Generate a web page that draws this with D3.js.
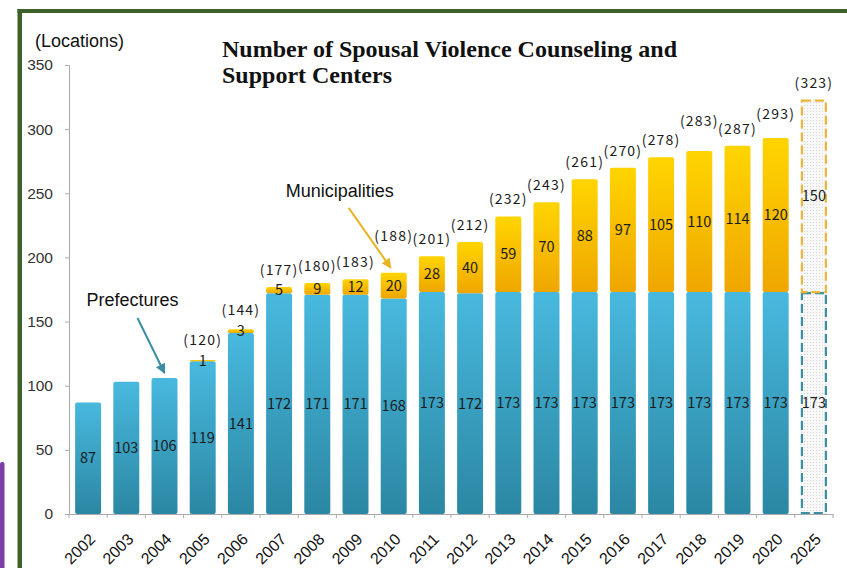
<!DOCTYPE html>
<html>
<head>
<meta charset="utf-8">
<script src="https://cdnjs.cloudflare.com/ajax/libs/d3/7.8.5/d3.min.js"></script>
<style>
	body { margin: 0; background: #fff; }
	svg { display: block; }
	.axis text { font-family: "Liberation Sans", Arial, sans-serif; fill: #333; }
	.axis path, .axis line { stroke: #aaa; }
</style>
</head>
<body>
<svg id="chart" width="847" height="568"></svg>
<script>
;(function(d3) {
	"use strict";

	// Data. 2025 is a target, drawn as a dashed outline.
	var years = ["2002", "2003", "2004", "2005", "2006", "2007", "2008", "2009", "2010", "2011",
		"2012", "2013", "2014", "2015", "2016", "2017", "2018", "2019", "2020", "2025"];
	var prefectures = [87, 103, 106, 119, 141, 172, 171, 171, 168, 173,
		172, 173, 173, 173, 173, 173, 173, 173, 173, 173];
	var municipalities = [0, 0, 0, 1, 3, 5, 9, 12, 20, 28,
		40, 59, 70, 88, 97, 105, 110, 114, 120, 150];
	var totals = [null, null, null, 120, 144, 177, 180, 183, 188, 201,
		212, 232, 243, 261, 270, 278, 283, 287, 293, 323];
	var yTicks = [0, 50, 100, 150, 200, 250, 300, 350];
	var targetYear = "2025";

	var svg = d3.select("#chart");

	// frame bits around the chart
	svg.append("rect").attr("x", 0).attr("y", 462).attr("width", 4.5).attr("height", 120)
		.attr("rx", 2).style("fill", "#7a3ea6");
	svg.append("rect").attr("x", 17.5).attr("y", 9).attr("width", 840).attr("height", 4)
		.style("fill", "#3e6128");
	svg.append("rect").attr("x", 17.5).attr("y", 9).attr("width", 4.5).attr("height", 570)
		.style("fill", "#3e6128");

	var defs = svg.append("defs");
	function vGrad(id, top, bottom) {
		var g = defs.append("linearGradient").attr("id", id)
			.attr("x1", 0).attr("y1", 0).attr("x2", 0).attr("y2", 1);
		g.append("stop").attr("offset", "0%").attr("stop-color", top);
		g.append("stop").attr("offset", "100%").attr("stop-color", bottom);
	}
	vGrad("blueGrad", "#48b9de", "#2b87a3");
	vGrad("yellowGrad", "#ffd500", "#efa600");

	var dots = defs.append("pattern").attr("id", "dots").attr("patternUnits", "userSpaceOnUse")
		.attr("width", 3).attr("height", 3);
	dots.append("rect").attr("width", 3).attr("height", 3).style("fill", "#f8f8f8");
	dots.append("rect").attr("width", 1).attr("height", 1).style("fill", "#d6d6d6");

	["tealHead", "goldHead"].forEach(function(id, i) {
		defs.append("marker").attr("id", id).attr("viewBox", "0 0 10 10")
			.attr("refX", 9).attr("refY", 5).attr("markerWidth", 5).attr("markerHeight", 5)
			.attr("orient", "auto")
			.append("path").attr("d", "M0,0 L10,5 L0,10 z")
			.style("fill", i === 0 ? "#3a8ea3" : "#e8b424");
	});

	var x = d3.scaleBand().domain(years).range([69, 833]).paddingInner(0.32).paddingOuter(0.16);
	var y = d3.scaleLinear().domain([0, 350]).range([514, 65]);

	var rows = years.map(function(yr, i) {
		return { year: yr, pref: prefectures[i], muni: municipalities[i], total: totals[i], target: yr === targetYear };
	});
	var actual = rows.filter(function(d) { return !d.target; });
	var target = rows.filter(function(d) { return d.target; });

	// axes
	var yAxis = svg.append("g").attr("class", "axis")
		.attr("transform", "translate(69,0)")
		.call(d3.axisLeft(y).tickValues(yTicks).tickSize(4).tickPadding(12));
	yAxis.selectAll("text").style("font-size", "15.5px");

	var xAxis = svg.append("g").attr("class", "axis")
		.attr("transform", "translate(0," + y(0) + ")")
		.call(d3.axisBottom(x).tickSize(0).tickSizeOuter(0));
	xAxis.selectAll("text")
		.style("font-size", "16px")
		.style("fill", "#111")
		.attr("text-anchor", "end")
		.attr("dy", null)
		.attr("transform", "translate(6,24) rotate(-45)");
	// tick marks sit between the bars
	xAxis.selectAll(".gap").data(d3.range(years.length + 1)).enter().append("line")
		.attr("class", "gap")
		.attr("x1", function(i) { return x.range()[0] + i * x.step(); })
		.attr("x2", function(i) { return x.range()[0] + i * x.step(); })
		.attr("y1", 0).attr("y2", 4);

	var bw = x.bandwidth();

	// stacked bars
	var bars = svg.append("g").attr("class", "bars");
	bars.selectAll(".pref").data(actual).enter().append("rect")
		.attr("x", function(d) { return x(d.year); })
		.attr("y", function(d) { return y(d.pref); })
		.attr("width", bw)
		.attr("height", function(d) { return y(0) - y(d.pref); })
		.attr("rx", 2)
		.style("fill", "url(#blueGrad)");
	bars.selectAll(".muni").data(actual.filter(function(d) { return d.muni > 0; })).enter().append("rect")
		.attr("x", function(d) { return x(d.year); })
		.attr("y", function(d) { return y(d.pref + d.muni); })
		.attr("width", bw)
		.attr("height", function(d) { return y(d.pref) - y(d.pref + d.muni); })
		.attr("rx", 2)
		.style("fill", "url(#yellowGrad)");

	// target bar: dotted fill, dashed outline per segment
	target.forEach(function(d) {
		var g = bars.append("g");
		g.append("rect")
			.attr("x", x(d.year)).attr("y", y(d.pref + d.muni))
			.attr("width", bw).attr("height", y(0) - y(d.pref + d.muni))
			.style("fill", "url(#dots)");
		g.append("rect")
			.attr("x", x(d.year) + 1).attr("y", y(d.pref) + 1)
			.attr("width", bw - 2).attr("height", y(0) - y(d.pref) - 2)
			.style("fill", "none").style("stroke", "#3c8fa0").style("stroke-width", 2.2)
			.style("stroke-dasharray", "9,4");
		g.append("rect")
			.attr("x", x(d.year) + 1).attr("y", y(d.pref + d.muni) + 1)
			.attr("width", bw - 2).attr("height", y(d.pref) - y(d.pref + d.muni) - 1)
			.style("fill", "none").style("stroke", "#eab838").style("stroke-width", 2.2)
			.style("stroke-dasharray", "9,4");
	});

	// value labels
	var labelFont = '"Noto Sans CJK KR", "Noto Sans", sans-serif';
	var labels = svg.append("g").attr("class", "labels")
		.style("font-family", labelFont).style("font-size", "14.5px").style("fill", "#1b1b1b")
		.attr("text-anchor", "middle");
	labels.selectAll(".pv").data(rows).enter().append("text")
		.attr("x", function(d) { return x(d.year) + bw / 2; })
		.attr("y", function(d) { return y(d.pref / 2); })
		.attr("dy", "0.35em")
		.text(function(d) { return d.pref; });
	labels.selectAll(".mv").data(rows.filter(function(d) { return d.muni > 0; })).enter().append("text")
		.attr("x", function(d) { return x(d.year) + bw / 2; })
		.attr("y", function(d) { return y(d.pref + d.muni / 2); })
		.attr("dy", "0.35em")
		.text(function(d) { return d.muni; });

	// totals in brackets; a few sit higher in the original to clear the arrow
	// or the thin yellow caps
	var lift = { "2005": 3, "2006": 2, "2010": 20, "2018": 13, "2020": 7 };
	labels.selectAll(".tv").data(rows.filter(function(d) { return d.total; })).enter().append("text")
		.attr("x", function(d) { return x(d.year) + bw / 2; })
		.attr("y", function(d) { return y(d.total) - 12 - (lift[d.year] || 0); })
		.style("font-size", "14px")
		.style("letter-spacing", "1.2px")
		.text(function(d) { return "(" + d.total + ")"; });

	// annotations, anchored to the bars they point at
	function pointer(yr, value, nudge, dx, dy, head, color) {
		var ex = x(yr) + bw / 2 + nudge, ey = y(value) - 5;
		svg.append("line")
			.attr("x1", ex + dx).attr("y1", ey + dy).attr("x2", ex).attr("y2", ey)
			.style("stroke", color).style("stroke-width", 2)
			.attr("marker-end", "url(#" + head + ")");
		return [ex + dx, ey + dy];
	}
	var pStart = pointer("2004", prefectures[2], 0, -27, -55, "tealHead", "#3a8ea3");
	var mStart = pointer("2010", totals[8], -3, -42, -60, "goldHead", "#e8b424");

	var note = svg.append("g").style("font-family", '"Liberation Sans", Arial, sans-serif')
		.style("font-size", "18px").style("fill", "#111");
	note.append("text").attr("x", pStart[0] - 5).attr("y", pStart[1] - 12)
		.attr("text-anchor", "middle").text("Prefectures");
	note.append("text").attr("x", mStart[0] - 9).attr("y", mStart[1] - 11)
		.attr("text-anchor", "middle").text("Municipalities");

	note.append("text").attr("x", 35).attr("y", 47).text("(Locations)");

	var title = svg.append("text").attr("x", 222).attr("y", 57)
		.style("font-family", '"Liberation Serif", "Times New Roman", serif')
		.style("font-weight", "bold").style("font-size", "24px").style("fill", "#111");
	title.append("tspan").attr("x", 222).text("Number of Spousal Violence Counseling and");
	title.append("tspan").attr("x", 222).attr("dy", 26).text("Support Centers");
})(d3);
</script>
</body>
</html>
